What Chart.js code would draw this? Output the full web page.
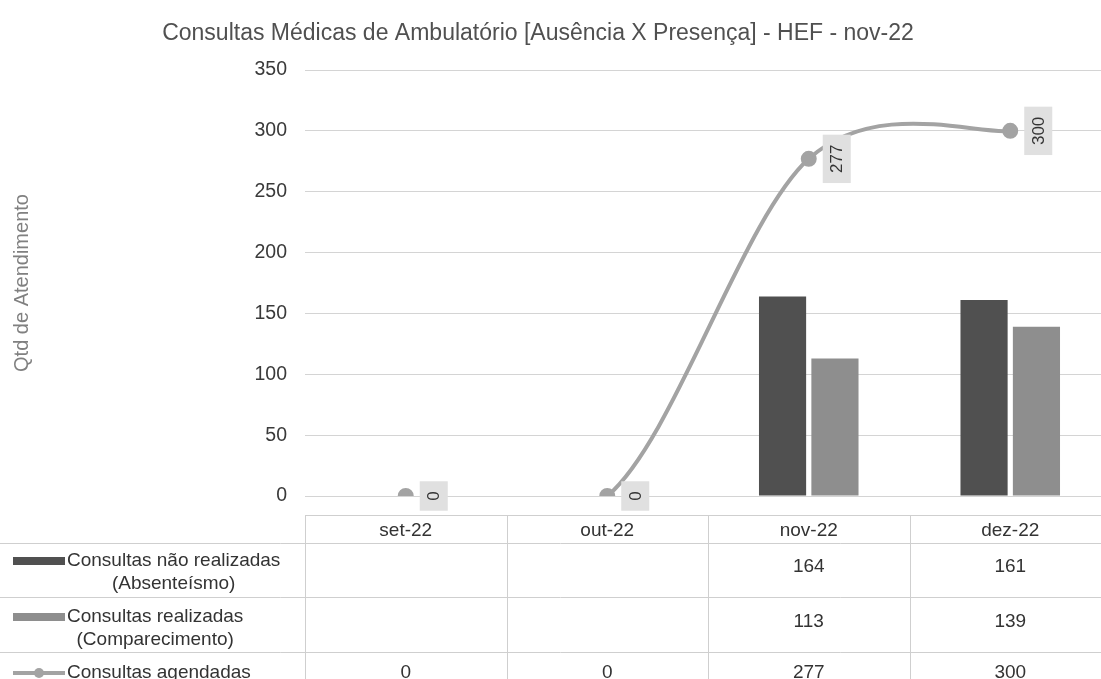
<!DOCTYPE html>
<html>
<head>
<meta charset="utf-8">
<script src="https://cdn.jsdelivr.net/npm/chart.js@4.4.0/dist/chart.umd.min.js"></script>
<style>
  html, body { margin: 0; padding: 0; background: #fff; overflow: hidden; }
  #wrap { width: 1121px; height: 679px; }
</style>
</head>
<body>
<div id="wrap"><canvas id="chart"></canvas></div>
<script>
// data
const chartTitle = 'Consultas Médicas de Ambulatório [Ausência X Presença] - HEF - nov-22';
const months = ['set-22', 'out-22', 'nov-22', 'dez-22'];
const naoRealizadas = [null, null, 164, 161];
const realizadas = [null, null, 113, 139];
const agendadas = [0, 0, 277, 300];
const yTicks = [0, 50, 100, 150, 200, 250, 300, 350];
const rowNames = [
    ['Consultas não realizadas', '(Absenteísmo)'],
    ['Consultas realizadas', '(Comparecimento)'],
    ['Consultas agendadas']
];

const FONT = "'Liberation Sans', Arial, sans-serif";
const darkGray = '#505050';
const midGray = '#8e8e8e';
const lineGray = '#a3a3a3';

// title drawn by hand so it can sit left of the (wider) canvas centre
const titlePlugin = {
    id: 'sheetTitle',
    afterDraw(chart) {
        const ctx = chart.ctx;
        ctx.save();
        ctx.font = '23px ' + FONT;
        ctx.fillStyle = '#505050';
        ctx.textAlign = 'center';
        ctx.textBaseline = 'middle';
        ctx.fillText(chartTitle, 538, 34);
        ctx.restore();
    }
};

// Excel-like smoothing (catmull-rom, 1/6) for the line dataset
const excelSmooth = {
    id: 'excelSmooth',
    beforeDatasetDraw(chart, args) {
        if (args.index !== 2) return;
        const meta = args.meta;
        meta.dataset.updateControlPoints(chart.chartArea, 'x');
        const pts = meta.data;
        pts.forEach((p, i) => {
            const prev = pts[i - 1] || p;
            const next = pts[i + 1] || p;
            p.cp1x = p.x - (next.x - prev.x) / 6;
            p.cp1y = p.y - (next.y - prev.y) / 6;
            p.cp2x = p.x + (next.x - prev.x) / 6;
            p.cp2y = p.y + (next.y - prev.y) / 6;
        });
    }
};

// vertical value labels next to the line points
const lineLabels = {
    id: 'lineLabels',
    afterDatasetsDraw(chart) {
        const ctx = chart.ctx;
        const meta = chart.getDatasetMeta(2);
        ctx.save();
        ctx.font = '17px ' + FONT;
        meta.data.forEach((pt, i) => {
            const txt = String(agendadas[i]);
            const w = ctx.measureText(txt).width + 20;
            ctx.save();
            ctx.translate(pt.x + 28, pt.y);
            ctx.rotate(-Math.PI / 2);
            ctx.fillStyle = '#e0e0e0';
            ctx.fillRect(-w / 2, -14, w, 28);
            ctx.fillStyle = '#333';
            ctx.textAlign = 'center';
            ctx.textBaseline = 'middle';
            ctx.fillText(txt, 0, 1);
            ctx.restore();
        });
        ctx.restore();
    }
};

// data table under the plot (Excel style)
const dataTable = {
    id: 'dataTable',
    afterDraw(chart) {
        const ctx = chart.ctx;
        const x = chart.scales.x;
        const area = chart.chartArea;
        const half = (x.getPixelForValue(1) - x.getPixelForValue(0)) / 2;
        const lines = [515, 543, 597, 652, 700];
        const right = chart.width;
        ctx.save();
        ctx.strokeStyle = '#cfcfcf';
        ctx.lineWidth = 1;
        ctx.beginPath();
        ctx.moveTo(area.left, lines[0] + 0.5);
        ctx.lineTo(right, lines[0] + 0.5);
        for (let i = 1; i < 4; i++) {
            ctx.moveTo(0, lines[i] + 0.5);
            ctx.lineTo(right, lines[i] + 0.5);
        }
        for (let c = 0; c < months.length; c++) {
            const xl = Math.round(x.getPixelForValue(c) - half) + 0.5;
            ctx.moveTo(xl, lines[0]);
            ctx.lineTo(xl, chart.height);
        }
        ctx.stroke();

        ctx.font = '19px ' + FONT;
        ctx.fillStyle = '#333';
        ctx.textAlign = 'center';
        ctx.textBaseline = 'middle';
        const series = [naoRealizadas, realizadas, agendadas];
        months.forEach((m, c) => {
            const cx = x.getPixelForValue(c);
            ctx.fillText(m, cx, (lines[0] + lines[1]) / 2 + 2);
            series.forEach((s, r) => {
                if (s[c] !== null) {
                    ctx.fillText(String(s[c]), cx, (lines[r + 1] + lines[r + 2]) / 2 - 3);
                }
            });
        });

        // row headers with legend keys
        const textLeft = 67;
        const rowTops = [561, 617, 673];
        rowNames.forEach((lns, r) => {
            const y0 = rowTops[r];
            ctx.textAlign = 'left';
            ctx.fillStyle = '#333';
            ctx.fillText(lns[0], textLeft, y0);
            const w0 = ctx.measureText(lns[0]).width;
            if (lns[1]) {
                ctx.textAlign = 'center';
                ctx.fillText(lns[1], textLeft + w0 / 2, y0 + 23);
            }
            if (r < 2) {
                ctx.fillStyle = r === 0 ? darkGray : midGray;
                ctx.fillRect(13, y0 - 4, 52, 8);
            } else {
                ctx.strokeStyle = lineGray;
                ctx.lineWidth = 4;
                ctx.beginPath();
                ctx.moveTo(13, y0);
                ctx.lineTo(65, y0);
                ctx.stroke();
                ctx.fillStyle = lineGray;
                ctx.beginPath();
                ctx.arc(39, y0, 5, 0, Math.PI * 2);
                ctx.fill();
            }
        });
        ctx.restore();
    }
};

new Chart(document.getElementById('chart'), {
    data: {
        labels: months,
        datasets: [
            {
                type: 'bar',
                label: 'Consultas não realizadas (Absenteísmo)',
                data: naoRealizadas,
                backgroundColor: darkGray,
                categoryPercentage: 0.52,
                barPercentage: 0.9,
                order: 2
            },
            {
                type: 'bar',
                label: 'Consultas realizadas (Comparecimento)',
                data: realizadas,
                backgroundColor: midGray,
                categoryPercentage: 0.52,
                barPercentage: 0.9,
                order: 2
            },
            {
                type: 'line',
                label: 'Consultas agendadas',
                data: agendadas,
                borderColor: lineGray,
                backgroundColor: lineGray,
                borderWidth: 4,
                tension: 0.4,
                pointRadius: 6,
                pointBackgroundColor: lineGray,
                pointBorderColor: lineGray,
                // the first segment is not visible in the original
                segment: {
                    borderColor: c => c.p0DataIndex === 0 ? 'rgba(0,0,0,0)' : lineGray
                },
                order: 1
            }
        ]
    },
    options: {
        responsive: true,
        maintainAspectRatio: false,
        animation: false,
        layout: { padding: { top: 70, right: 0, bottom: 183, left: 0 } },
        scales: {
            x: {
                display: false,
                offset: true
            },
            y: {
                min: 0,
                max: 350,
                afterBuildTicks: s => { s.ticks = yTicks.map(v => ({ value: v })); },
                afterFit: s => { s.width = 305; },
                border: { display: false },
                grid: { color: '#d4d4d4', drawTicks: false },
                ticks: {
                    padding: 18,
                    color: '#3a3a3a',
                    font: { family: FONT, size: 19.5 }
                },
                title: {
                    display: true,
                    text: 'Qtd de Atendimento',
                    color: '#808080',
                    font: { family: FONT, size: 20 },
                    padding: { top: 10, bottom: 0 }
                }
            }
        },
        plugins: {
            legend: { display: false },
            tooltip: { enabled: false },
            title: { display: false }
        }
    },
    plugins: [excelSmooth, lineLabels, dataTable, titlePlugin]
});
</script>
</body>
</html>
